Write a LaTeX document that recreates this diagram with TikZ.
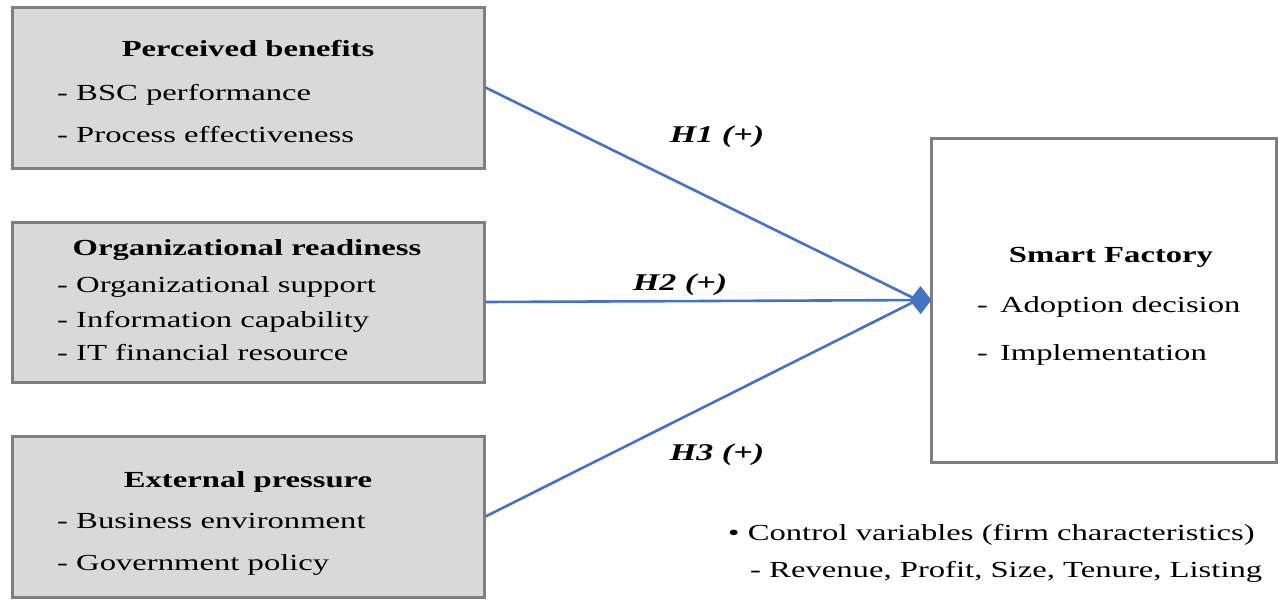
\documentclass[tikz,border=0pt]{standalone}
\usepackage{fontspec}
\setmainfont{Liberation Serif}[FakeStretch=1.42]
\usetikzlibrary{arrows.meta}
\definecolor{boxgray}{HTML}{D9D9D9}
\definecolor{edgegray}{HTML}{7F7F7F}
\definecolor{linkblue}{HTML}{4472C4}
\newcommand{\diagramsize}{\fontsize{23}{28}\selectfont}
\tikzset{
  factorbox/.style={draw=edgegray, line width=3pt, fill=boxgray, inner sep=0pt},
  outcomebox/.style={draw=edgegray, line width=3pt, fill=white, inner sep=0pt},
  head/.style={anchor=base, inner sep=0pt, font=\diagramsize\bfseries},
  item/.style={anchor=base west, inner sep=0pt, font=\diagramsize},
  hyp/.style={anchor=base, inner sep=0pt, font=\fontsize{24}{28}\selectfont\bfseries\itshape},
  link/.style={draw=linkblue, line width=2.6pt},
}
\begin{document}
\begin{tikzpicture}[x=1pt, y=-1pt]
\useasboundingbox (0,0) rectangle (1278,600);

% factor boxes
\node[factorbox, minimum width=472pt, minimum height=161pt] (pb) at (248,87.5) {};
\node[factorbox, minimum width=472pt, minimum height=160pt] (orr) at (248,302) {};
\node[factorbox, minimum width=472pt, minimum height=161pt] (ep) at (248,516.5) {};
% outcome box
\node[outcomebox, minimum width=345pt, minimum height=324pt] (sf) at (1103.5,300) {};

% box texts
\node[head] (pbh) at (248,56) {Perceived benefits};
\node[item] (pb1) at (57,100) {- BSC performance};
\node[item] (pb2) at (57,142) {- Process effectiveness};

\node[head] (orh) at (247,255) {Organizational readiness};
\node[item] (or1) at (57,292) {- Organizational support};
\node[item] (or2) at (57,327) {- Information capability};
\node[item] (or3) at (57,360) {- IT financial resource};

\node[head] (eph) at (248,487) {External pressure};
\node[item] (ep1) at (57,528) {- Business environment};
\node[item] (ep2) at (57,570) {- Government policy};

\node[head] (sfh) at (1111,262) {Smart Factory};
\node[item] (sf1) at (977,312) {-\hspace{12pt}Adoption decision};
\node[item] (sf2) at (977,360) {-\hspace{12pt}Implementation};

% control variables
\node[item] (cv1) at (728,540) {\textbullet\ Control variables (firm characteristics)};
\node[item] (cv2) at (750,577) {- Revenue, Profit, Size, Tenure, Listing};

% hypothesised paths
\coordinate (tip) at ([xshift=-12pt]sf.west);
\coordinate (head) at ([xshift=2pt]sf.west);
\draw[link] (pb.east) -- (tip);
\draw[link, -{Diamond[length=22pt, width=28pt]}] (orr.east) -- (head);
\draw[link] (ep.east) -- (tip);

\node[hyp] (h1) at (717,142) {H1 (+)};
\node[hyp] (h2) at (680,290) {H2 (+)};
\node[hyp] (h3) at (717,460) {H3 (+)};
\end{tikzpicture}
\end{document}
